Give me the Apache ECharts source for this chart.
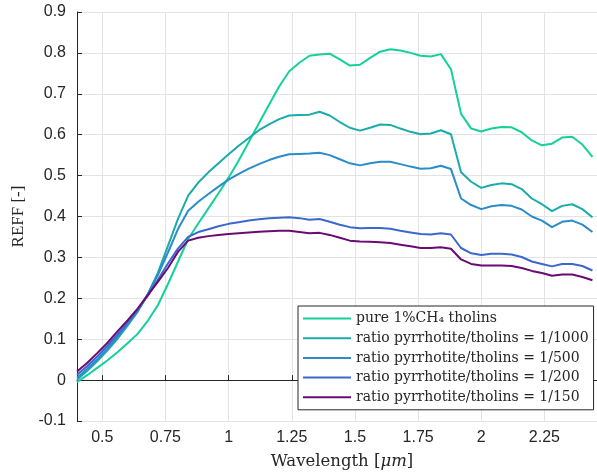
<!DOCTYPE html>
<html>
<head>
<meta charset="utf-8">
<script src="https://cdn.jsdelivr.net/npm/echarts@6/dist/echarts.min.js"></script>
<style>
html,body{margin:0;padding:0;background:#fff;}
#chart{width:597px;height:475px;}
</style>
</head>
<body>
<div id="chart"></div>
<script>
const wavelength = [0.40,0.44,0.48,0.52,0.56,0.60,0.64,0.68,0.72,0.76,0.80,0.84,0.88,0.92,0.96,1.00,1.04,1.08,1.12,1.16,1.20,1.24,1.28,1.32,1.36,1.40,1.44,1.48,1.52,1.56,1.60,1.64,1.68,1.72,1.76,1.80,1.84,1.88,1.92,1.96,2.00,2.04,2.08,2.12,2.16,2.20,2.24,2.28,2.32,2.36,2.40,2.44];

const pureTholins = [-0.005,0.012,0.030,0.048,0.068,0.090,0.113,0.145,0.183,0.235,0.290,0.345,0.383,0.420,0.457,0.495,0.537,0.582,0.628,0.673,0.718,0.755,0.776,0.793,0.796,0.798,0.784,0.769,0.771,0.788,0.803,0.809,0.806,0.800,0.793,0.791,0.797,0.760,0.651,0.615,0.608,0.615,0.619,0.618,0.606,0.586,0.574,0.578,0.593,0.595,0.576,0.546];

const ratio1000 = [0.001,0.022,0.046,0.072,0.101,0.133,0.167,0.210,0.262,0.328,0.395,0.451,0.483,0.508,0.530,0.552,0.573,0.592,0.611,0.625,0.638,0.647,0.648,0.649,0.656,0.647,0.631,0.617,0.610,0.617,0.625,0.624,0.615,0.607,0.601,0.603,0.611,0.601,0.508,0.485,0.470,0.477,0.481,0.479,0.467,0.444,0.430,0.413,0.426,0.430,0.418,0.398];

const ratio500 = [0.006,0.027,0.051,0.077,0.106,0.137,0.170,0.210,0.257,0.312,0.370,0.414,0.436,0.455,0.473,0.490,0.504,0.517,0.528,0.538,0.546,0.552,0.553,0.554,0.556,0.550,0.540,0.530,0.525,0.530,0.534,0.534,0.528,0.522,0.517,0.518,0.524,0.516,0.444,0.428,0.418,0.425,0.428,0.426,0.417,0.400,0.390,0.374,0.387,0.390,0.380,0.362];

const ratio200 = [0.013,0.034,0.058,0.084,0.112,0.141,0.172,0.206,0.245,0.285,0.322,0.350,0.362,0.369,0.376,0.382,0.386,0.390,0.393,0.396,0.397,0.398,0.396,0.392,0.394,0.387,0.380,0.374,0.371,0.372,0.372,0.370,0.365,0.361,0.357,0.356,0.359,0.356,0.323,0.310,0.306,0.309,0.309,0.307,0.301,0.290,0.284,0.278,0.284,0.284,0.279,0.268];

const ratio150 = [0.021,0.042,0.066,0.091,0.119,0.146,0.175,0.208,0.240,0.274,0.314,0.341,0.348,0.352,0.355,0.357,0.359,0.361,0.363,0.364,0.365,0.365,0.362,0.359,0.360,0.355,0.348,0.341,0.339,0.338,0.337,0.335,0.331,0.327,0.323,0.323,0.325,0.321,0.295,0.284,0.280,0.280,0.280,0.279,0.274,0.267,0.262,0.255,0.258,0.258,0.252,0.244];

const seriesNames = ['pure 1%CH₄ tholins','ratio pyrrhotite/tholins = 1/1000','ratio pyrrhotite/tholins = 1/500','ratio pyrrhotite/tholins = 1/200','ratio pyrrhotite/tholins = 1/150'];
const seriesColors = ['#14d09a','#1aabab','#2a8cc8','#3a68d0','#6b0a72'];
const seriesValues = [pureTholins, ratio1000, ratio500, ratio200, ratio150];

const xTicks = [0.5,0.75,1,1.25,1.5,1.75,2,2.25];

const chart = echarts.init(document.getElementById('chart'));
const serif = '"Liberation Serif", "DejaVu Serif", serif';
const wideSerif = '"DejaVu Serif", "Liberation Serif", serif';
const sans = '"Liberation Sans", Arial, sans-serif';

chart.setOption({
  animation: false,
  backgroundColor: '#fff',
  grid: { left: 77, right: 0, top: 12, bottom: 52, containLabel: false },
  xAxis: {
    type: 'value', min: 0.4, max: 2.458,
    name: 'Wavelength [{i|μm}]', nameLocation: 'middle', nameGap: 32,
    nameTextStyle: { fontFamily: wideSerif, fontSize: 16.5, color: '#262626', padding: [0, 0, 0, 10],
      rich: { i: { fontFamily: wideSerif, fontStyle: 'italic', fontSize: 16.5, color: '#262626' } } },
    axisLine: { show: true, lineStyle: { color: '#262626', width: 1 } },
    axisTick: { show: true, inside: true, length: 5, customValues: xTicks, lineStyle: { color: '#262626' } },
    axisLabel: { customValues: xTicks, fontFamily: sans, fontSize: 16, color: '#262626', margin: 9 },
    splitLine: { show: true, lineStyle: { color: '#e3e3e3', width: 1 } }
  },
  yAxis: {
    type: 'value', min: -0.1, max: 0.9, interval: 0.1,
    name: 'REFF [-]', nameLocation: 'middle', nameGap: 48, nameRotate: 90,
    nameTextStyle: { fontFamily: serif, fontSize: 17, color: '#262626' },
    axisLine: { show: true, lineStyle: { color: '#262626', width: 1 } },
    axisTick: { show: true, inside: true, length: 5, lineStyle: { color: '#262626' } },
    axisLabel: { fontFamily: sans, fontSize: 16, color: '#262626', margin: 11,
      formatter: v => String(Math.round(v * 10) / 10) },
    splitLine: { show: true, lineStyle: { color: '#e3e3e3', width: 1 } }
  },
  legend: {
    orient: 'vertical', left: 298, top: 306,
    backgroundColor: '#fff', borderColor: '#262626', borderWidth: 1,
    padding: [5.5, 5, 5.5, 4],
    itemWidth: 48, itemHeight: 14, itemGap: 5.7,
    itemStyle: { opacity: 0 },
    textStyle: { fontFamily: wideSerif, fontSize: 14, lineHeight: 14, color: '#262626' },
    data: seriesNames
  },
  series: seriesValues.map((vals, k) => ({
    name: seriesNames[k],
    type: 'line',
    data: wavelength.map((w, j) => [w, vals[j]]),
    symbol: 'none',
    lineStyle: { width: 2, color: seriesColors[k] },
    itemStyle: { color: seriesColors[k] },
    z: 2 + k
  }))
});
</script>
</body>
</html>
